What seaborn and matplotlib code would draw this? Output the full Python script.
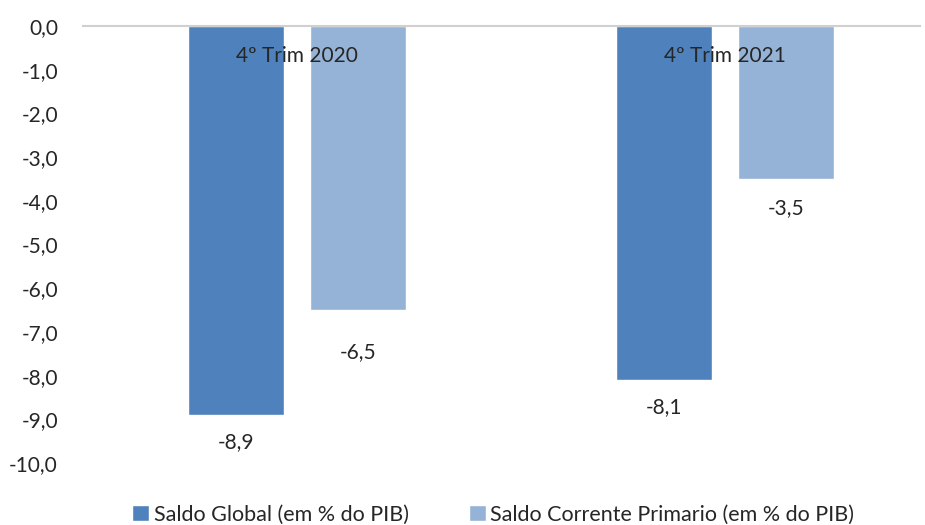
import matplotlib
matplotlib.use("Agg")
import matplotlib.pyplot as plt
import seaborn as sns
import pandas as pd

# Data
periods = ["4º Trim 2020", "4º Trim 2021"]
series = ["Saldo Global (em % do PIB)", "Saldo Corrente Primario (em % do PIB)"]
saldo_global = [-8.9, -8.1]
saldo_corrente = [-6.5, -3.5]
yticks = [0, -1, -2, -3, -4, -5, -6, -7, -8, -9, -10]

colors = ["#4F81BD", "#95B3D7"]
# distance (px) from bar end to centre of its value label
label_offsets = [[27, 27], [42, 29]]
FS = 15

sns.set_theme(style="white")
plt.rcParams["font.family"] = ["Lato", "DejaVu Sans"]

df = pd.DataFrame({
    "periodo": periods * 2,
    "serie": [series[0]] * 2 + [series[1]] * 2,
    "valor": saldo_global + saldo_corrente,
})

fig = plt.figure(figsize=(9.25, 5.25), dpi=100)
ax = fig.add_axes([0.0897, 0.118, 0.905, 0.8325])

sns.barplot(data=df, x="periodo", y="valor", hue="serie", hue_order=series,
            order=periods, palette=colors, width=0.57, gap=0.214,
            saturation=1, ax=ax, legend=True)

ax.set_ylim(-10, 0)
ax.set_xlim(-0.5, 1.456)
ax.set_yticks(yticks)
ax.set_yticklabels([f"{v:.1f}".replace(".", ",") for v in yticks],
                   fontsize=FS, color="#262626")
ax.set_xticks([])
ax.set_xlabel("")
ax.set_ylabel("")
ax.tick_params(axis="y", length=0, pad=18)

for s in ["left", "right", "bottom"]:
    ax.spines[s].set_visible(False)
ax.spines["top"].set_color("#D0D0D0")
ax.spines["top"].set_linewidth(1.5)

# value labels below each bar end
values = [saldo_global, saldo_corrente]
for cont, vals, offs in zip(ax.containers, values, label_offsets):
    for bar, v, off in zip(cont, vals, offs):
        ax.annotate(f"{v:.1f}".replace(".", ","),
                    xy=(bar.get_x() + bar.get_width() / 2, v),
                    xytext=(0, -off * 72 / 100), textcoords="offset points",
                    ha="center", va="center", fontsize=FS, color="#262626")

# category labels near the top of the plot
for i, p in enumerate(periods):
    ax.text(i, -0.69, p, ha="center", va="center", fontsize=FS,
            color="#262626")

sns.move_legend(ax, "lower center", bbox_to_anchor=(0.49, -0.185), ncol=2,
                frameon=False, title=None, fontsize=FS + 0.5,
                handlelength=0.8, handleheight=0.8, handletextpad=0.2,
                columnspacing=2.8)
for t in ax.get_legend().get_texts():
    t.set_color("#262626")

fig.savefig("out.png", dpi=100)
